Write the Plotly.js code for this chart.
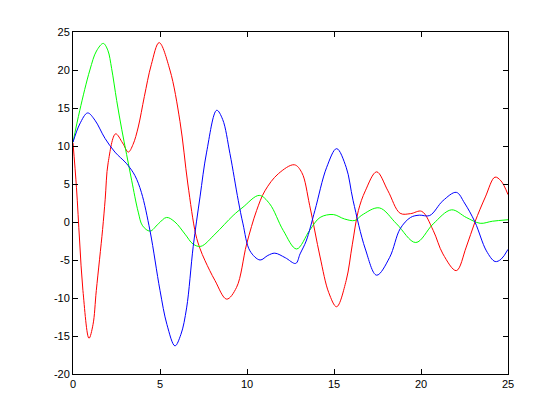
<!DOCTYPE html>
<html>
<head>
<meta charset="utf-8">
<script src="https://cdn.plot.ly/plotly-3.0.1.min.js"></script>
<style>html,body{margin:0;padding:0;background:#fff;}#chart{width:560px;height:420px;}</style>
</head>
<body>
<div id="chart"></div>
<script>
const redX = [0, 0.2, 0.38, 0.57, 0.92, 1.15, 1.34, 1.7, 1.85, 2.02, 2.45, 2.85, 3.18, 3.45, 3.75, 4.1, 4.5, 4.95, 5.57, 6.15, 6.6, 7.05, 7.3, 7.59, 8.16, 8.83, 9.4, 9.98, 10.55, 11.03, 11.8, 12.72, 13.15, 13.6, 14.2, 14.7, 15.15, 15.7, 16.05, 16.4, 16.8, 17.45, 18.1, 18.8, 19.4, 20.04, 20.7, 21.26, 22.03, 22.6, 23.1, 23.7, 24.25, 24.6, 25];
const redY = [10.4, 4.5, -2.5, -9, -15.3, -13.5, -9, -1, 3, 7.8, 11.6, 10.4, 9.2, 10.2, 12.5, 16.5, 20.7, 23.6, 20, 13.2, 5, -1.6, -3.5, -5.1, -7.7, -10.15, -8.6, -2.9, 1.5, 4.1, 6.35, 7.53, 6.5, 2.2, -4.6, -9.3, -11.15, -7.7, -3, 1.5, 4.1, 6.6, 4.1, 1.15, 1.1, 1.4, -1.1, -4.2, -6.4, -3.3, 0, 3.3, 5.9, 5.4, 3.6];

const greenX = [0, 0.39, 0.97, 1.35, 1.74, 2.0, 2.22, 2.51, 2.8, 3.08, 3.37, 3.75, 4.0, 4.43, 4.9, 5.38, 5.86, 6.44, 6.9, 7.35, 8.16, 9.2, 9.77, 10.7, 11.3, 12.08, 12.85, 13.6, 14.2, 14.96, 15.6, 16.2, 16.6, 17.6, 18.6, 19.7, 20.7, 21.75, 22.6, 23.4, 24.1, 25];
const greenY = [10.5, 14.7, 20, 22.5, 23.5, 22.6, 20.2, 16, 12.2, 8.9, 5.5, 1.3, -0.5, -1.2, -0.25, 0.6, 0, -1.6, -2.9, -3.2, -1.6, 0.85, 1.95, 3.5, 2.4, -1.1, -3.55, -1.1, 0.6, 0.98, 0.4, 0.2, 0.9, 1.86, -0.25, -2.7, -0.25, 1.6, 0.6, -0.17, 0.1, 0.3];

const blueX = [0, 0.39, 0.84, 1.26, 1.84, 2.41, 2.99, 3.18, 3.56, 3.93, 4.43, 5.0, 5.4, 5.86, 6.2, 6.53, 6.91, 7.3, 7.68, 8.26, 8.6, 9.02, 9.5, 9.77, 10.17, 10.75, 11.2, 11.6, 12.2, 12.8, 13.05, 13.4, 13.9, 14.58, 15.15, 15.7, 16.1, 16.8, 17.45, 18.2, 18.8, 19.4, 19.9, 20.5, 21.26, 22.03, 22.5, 23.1, 23.76, 24.26, 24.6, 25];
const blueY = [10.5, 12.9, 14.35, 13.4, 11, 9.2, 7.9, 7.4, 6.1, 3.9, -1.2, -9, -13.5, -16.3, -14.8, -11.3, -3.2, 3.3, 9.2, 14.7, 13.5, 9, 2.8, -0.25, -3.8, -5.0, -4.4, -4.1, -4.7, -5.45, -4.2, -2.5, 1.5, 7.2, 9.65, 7.2, 2.8, -3.55, -7.0, -4.65, -0.9, 0.6, 0.9, 0.85, 2.8, 3.9, 2.5, 0, -3.8, -5.2, -4.9, -3.6];

const xTicks = [0, 5, 10, 15, 20, 25];
const yTicks = [-20, -15, -10, -5, 0, 5, 10, 15, 20, 25];

const traces = [
  {x: redX, y: redY, mode: 'lines', line: {color: '#ff0000', width: 1, shape: 'spline', smoothing: 1}},
  {x: greenX, y: greenY, mode: 'lines', line: {color: '#00ff00', width: 1, shape: 'spline', smoothing: 1}},
  {x: blueX, y: blueY, mode: 'lines', line: {color: '#0000ff', width: 1, shape: 'spline', smoothing: 1}}
];

const axisCommon = {
  showgrid: false, zeroline: false, showline: true, linecolor: '#000', linewidth: 1,
  mirror: 'ticks', ticks: 'inside', ticklen: 5, tickcolor: '#000', tickwidth: 1,
  tickfont: {family: 'Liberation Sans, Arial, sans-serif', size: 11, color: '#000'}
};

const layout = {
  width: 560, height: 420,
  margin: {l: 73, r: 52, t: 32, b: 46},
  paper_bgcolor: '#fff', plot_bgcolor: '#fff',
  showlegend: false,
  xaxis: Object.assign({}, axisCommon, {range: [0, 25], tickvals: xTicks, ticktext: xTicks.map(String)}),
  yaxis: Object.assign({}, axisCommon, {range: [-20, 25], tickvals: yTicks, ticktext: yTicks.map(String)})
};

Plotly.newPlot('chart', traces, layout, {displayModeBar: false, staticPlot: true});
</script>
</body>
</html>
